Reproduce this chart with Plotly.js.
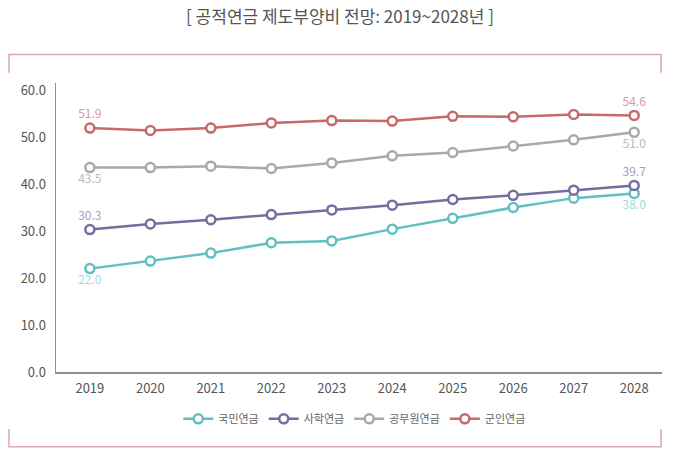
<!DOCTYPE html>
<html>
<head>
<meta charset="utf-8">
<script src="https://cdn.plot.ly/plotly-3.0.1.min.js"></script>
<style>html,body{margin:0;padding:0;background:#fff;}#chart{width:680px;height:454px;}</style>
</head>
<body>
<div id="chart"></div>
<script>
const years = [2019, 2020, 2021, 2022, 2023, 2024, 2025, 2026, 2027, 2028];
const seriesNames = ['국민연금', '사학연금', '공무원연금', '군인연금'];
const national = [22.0, 23.6, 25.3, 27.5, 27.9, 30.4, 32.7, 35.0, 37.0, 38.0];
const privateSchool = [30.3, 31.5, 32.4, 33.5, 34.5, 35.5, 36.7, 37.6, 38.7, 39.7];
const civilServant = [43.5, 43.5, 43.8, 43.3, 44.5, 46.0, 46.7, 48.1, 49.4, 51.0];
const military = [51.9, 51.4, 51.9, 53.0, 53.5, 53.4, 54.4, 54.3, 54.8, 54.6];
const yTicks = [0, 10, 20, 30, 40, 50, 60];

const colors = ['#62bfc3', '#776c9f', '#a9a9a9', '#c96869'];
const labelColors = ['#a6d9db', '#a59dc2', '#b9b7c6', '#d9999a'];
const labelPos = ['bottom center', 'top center', 'bottom center', 'top center'];
const allSeries = [national, privateSchool, civilServant, military];

const traces = allSeries.map((vals, i) => ({
  type: 'scatter',
  x: years,
  y: vals,
  name: seriesNames[i],
  mode: 'lines+markers+text',
  text: vals.map((v, j) => (j === 0 || j === vals.length - 1) ? v.toFixed(1) : ''),
  textposition: labelPos[i],
  textfont: {family: 'Noto Sans CJK KR, Noto Sans, sans-serif', size: 12, color: labelColors[i]},
  line: {color: colors[i], width: 2.5},
  marker: {symbol: 'circle', size: 9, color: '#ffffff', line: {color: colors[i], width: 2.5}},
  cliponaxis: false,
  hoverinfo: 'x+y+name'
}));

const frameColor = '#dba9ae';
const layout = {
  width: 680,
  height: 454,
  margin: {l: 56, r: 18, t: 83, b: 82},
  paper_bgcolor: '#ffffff',
  plot_bgcolor: '#ffffff',
  font: {family: 'Noto Sans CJK KR, Noto Sans, sans-serif', color: '#555555'},
  title: {
    text: '[ 공적연금 제도부양비 전망: 2019~2028년 ]',
    font: {size: 17, color: '#555555', family: 'Noto Sans CJK KR, sans-serif'},
    x: 0.5, xanchor: 'center', xref: 'container',
    y: 1 - 17 / 454, yanchor: 'middle', yref: 'container'
  },
  xaxis: {
    range: [2018.44, 2028.46],
    tickvals: years,
    ticktext: years.map(String),
    showgrid: false,
    zeroline: false,
    showline: true,
    linecolor: '#8f8f8f',
    linewidth: 1.5,
    ticks: 'outside', ticklen: 4, tickcolor: 'rgba(0,0,0,0)',
    tickfont: {size: 13, color: '#555555'},
    fixedrange: true
  },
  yaxis: {
    range: [0, 61.5],
    tickvals: yTicks,
    ticktext: yTicks.map(v => v.toFixed(1)),
    showgrid: false,
    zeroline: false,
    showline: true,
    linecolor: '#8f8f8f',
    linewidth: 1.5,
    ticks: 'outside', ticklen: 6, tickcolor: 'rgba(0,0,0,0)',
    tickfont: {size: 13, color: '#555555'},
    fixedrange: true
  },
  legend: {
    orientation: 'h',
    x: 0.493, xanchor: 'center',
    y: -0.162, yanchor: 'middle',
    font: {size: 11, color: '#666666'},
    itemwidth: 30,
    tracegroupgap: 0
  },
  shapes: [
    {type: 'path', xref: 'paper', yref: 'paper',
     path: 'M -0.0776 1.0356 L -0.0776 1.0986 L 0.9983 1.0986 L 0.9983 1.0356',
     line: {color: frameColor, width: 1.5}},
    {type: 'path', xref: 'paper', yref: 'paper',
     path: 'M -0.0776 -0.1972 L -0.0776 -0.2585 L 0.9983 -0.2585 L 0.9983 -0.1972',
     line: {color: frameColor, width: 1.5}}
  ],
  showlegend: true
};

Plotly.newPlot('chart', traces, layout, {displayModeBar: false, staticPlot: true});
</script>
</body>
</html>
